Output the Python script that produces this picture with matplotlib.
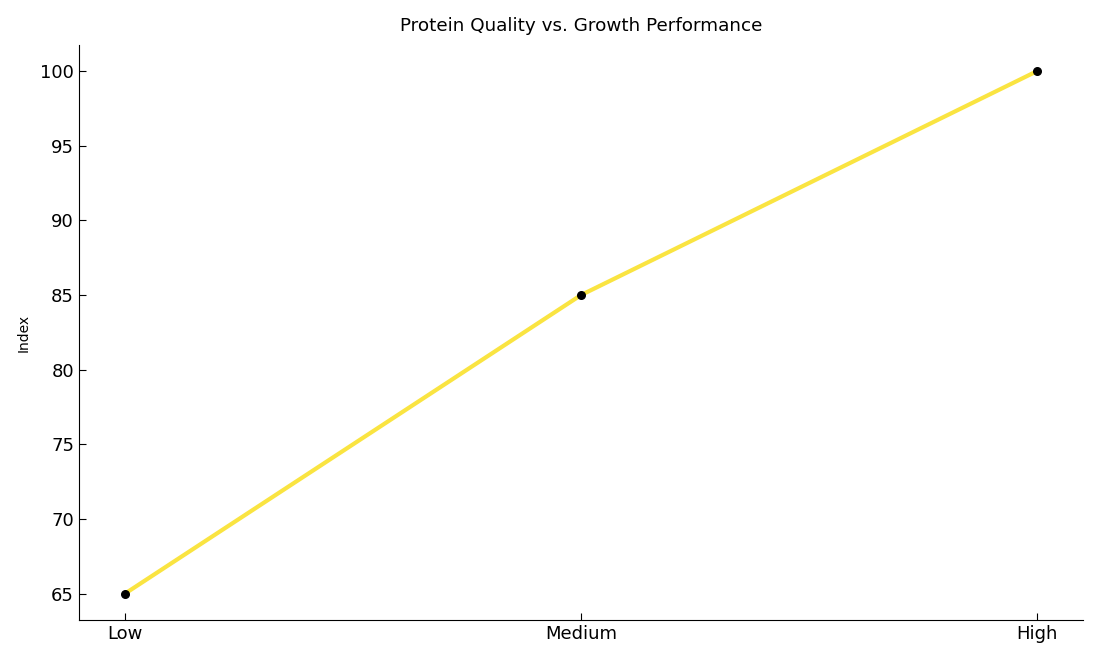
import matplotlib
matplotlib.use("Agg")
import matplotlib.pyplot as plt

quality_levels = ["Low", "Medium", "High"]
growth_index = [65, 85, 100]

fig = plt.figure(figsize=(11, 6.6), dpi=100)
ax = fig.add_axes([0.0718, 0.0606, 0.9127, 0.8714])

x = range(len(quality_levels))
ax.plot(x, growth_index, color="#fae441", linewidth=3, zorder=2)
ax.scatter(x, growth_index, color="black", s=30, zorder=3)

ax.set_xticks(list(x))
ax.set_xticklabels(quality_levels)
ax.set_yticks([65, 70, 75, 80, 85, 90, 95, 100])
ax.tick_params(axis="both", direction="in", length=5, labelsize=13)
ax.set_ylabel("Index", fontsize=10, labelpad=7)
ax.set_title("Protein Quality vs. Growth Performance", fontsize=13.2, pad=10)

ax.spines["top"].set_visible(False)
ax.spines["right"].set_visible(False)

fig.savefig("out.png", dpi=100)
